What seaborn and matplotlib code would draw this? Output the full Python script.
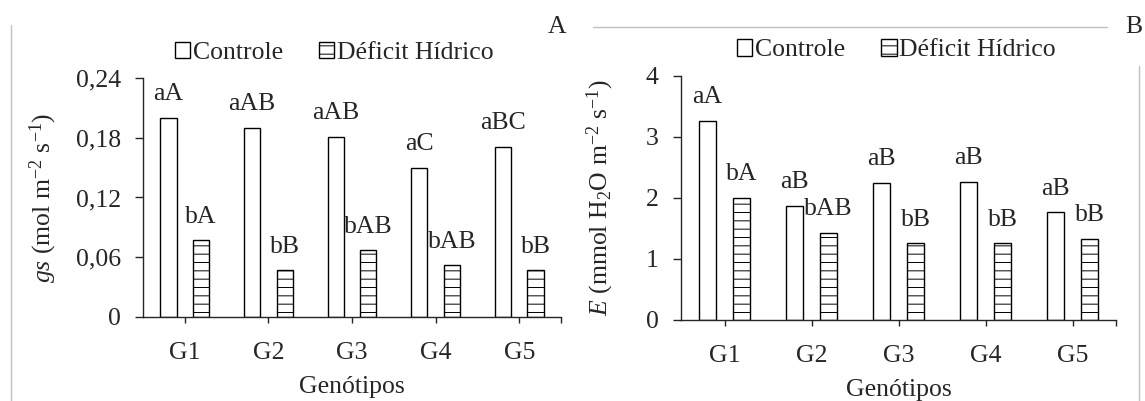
import matplotlib
matplotlib.use("Agg")
import matplotlib.pyplot as plt
import seaborn as sns
import pandas as pd
from matplotlib.lines import Line2D

genotipos = ["G1", "G2", "G3", "G4", "G5"]
tratamentos = ["Controle", "Déficit Hídrico"]

# panel A: stomatal conductance
gs_controle = [0.200, 0.190, 0.181, 0.150, 0.171]
gs_deficit = [0.077, 0.047, 0.067, 0.052, 0.047]
gs_letras_controle = ["aA", "aAB", "aAB", "aC", "aBC"]
gs_letras_deficit = ["bA", "bB", "bAB", "bAB", "bB"]
gs_ticks = [0, 0.06, 0.12, 0.18, 0.24]
gs_ticklabels = ["0", "0,06", "0,12", "0,18", "0,24"]

# panel B: transpiration
e_controle = [3.27, 1.87, 2.25, 2.27, 1.77]
e_deficit = [2.00, 1.43, 1.26, 1.26, 1.33]
e_letras_controle = ["aA", "aB", "aB", "aB", "aB"]
e_letras_deficit = ["bA", "bAB", "bB", "bB", "bB"]
e_ticks = [0, 1, 2, 3, 4]
e_ticklabels = ["0", "1", "2", "3", "4"]

sns.set_theme(style="ticks")
plt.rcParams["font.family"] = "serif"
plt.rcParams["font.serif"] = ["Liberation Serif", "DejaVu Serif"]
plt.rcParams["mathtext.fontset"] = "custom"
plt.rcParams["mathtext.rm"] = "Liberation Serif"
plt.rcParams["mathtext.it"] = "Liberation Serif:italic"
plt.rcParams["hatch.linewidth"] = 0.7
plt.rcParams["axes.unicode_minus"] = False

FS = 18.5
LINE = "#262626"


def make_df(controle, deficit):
    rows = []
    for g, c, d in zip(genotipos, controle, deficit):
        rows.append({"Genotipo": g, "Tratamento": tratamentos[0], "valor": c})
        rows.append({"Genotipo": g, "Tratamento": tratamentos[1], "valor": d})
    return pd.DataFrame(rows)


def draw_panel(ax, df, lab_c, lab_d, ticks, ticklabels, ylabel, leg_x,
               ylab_x):
    sns.barplot(data=df, x="Genotipo", y="valor", hue="Tratamento",
                hue_order=tratamentos, palette=["white", "white"],
                edgecolor="black", linewidth=1.0, width=0.78, gap=0.5,
                legend=False, ax=ax)
    # dashed fill for the water deficit bars
    for bar in ax.containers[1]:
        bar.set_hatch("--")
    ax.bar_label(ax.containers[0], labels=lab_c, padding=9, fontsize=FS)
    ax.bar_label(ax.containers[1], labels=lab_d, padding=9, fontsize=FS)

    ax.set_ylim(ticks[0], ticks[-1])
    ax.set_xlim(-0.5, 4.5)
    ax.set_yticks(ticks)
    ax.set_yticklabels(ticklabels)
    ax.set_xticks([4.5], minor=True)
    sns.despine(ax=ax)
    for side in ["left", "bottom"]:
        ax.spines[side].set_color(LINE)
        ax.spines[side].set_linewidth(1.0)
    ax.tick_params(axis="y", which="major", length=6, width=1.0,
                   color=LINE, pad=10, labelsize=FS)
    ax.tick_params(axis="x", which="both", length=4, width=1.0,
                   color=LINE, pad=14, labelsize=FS)
    ax.set_xlabel("Genótipos", fontsize=FS, labelpad=9)
    ax.set_ylabel(ylabel, fontsize=FS)
    ax.yaxis.set_label_coords(ylab_x, 0.5)

    leg = ax.legend(ax.containers, tratamentos, loc="center",
                    bbox_to_anchor=(leg_x, 1.105), ncol=2, frameon=False,
                    fontsize=FS, handlelength=0.6, handleheight=0.6,
                    handletextpad=0.1, columnspacing=1.4, borderpad=0)
    return leg


fig = plt.figure(figsize=(11.45, 4.01), dpi=100)
ax1 = fig.add_axes([0.1249, 0.2095, 0.3651, 0.596])
ax2 = fig.add_axes([0.5948, 0.2020, 0.3799, 0.6085])

draw_panel(ax1, make_df(gs_controle, gs_deficit), gs_letras_controle,
           gs_letras_deficit, gs_ticks, gs_ticklabels,
           r"$gs$ (mol m$^{\mathregular{-2}}$ s$^{\mathregular{-1}}$)",
           0.457, -0.20)
draw_panel(ax2, make_df(e_controle, e_deficit), e_letras_controle,
           e_letras_deficit, e_ticks, e_ticklabels,
           r"$E$ (mmol H$_{\mathregular{2}}$O m$^{\mathregular{-2}}$ "
           r"s$^{\mathregular{-1}}$)",
           0.495, -0.15)

# panel letters and the light frame lines around the figure
fig.text(0.4865, 0.933, "A", fontsize=FS, ha="center", va="center")
fig.text(0.990, 0.933, "B", fontsize=FS, ha="center", va="center")
grey = "#c0c0c0"
fig.add_artist(Line2D([593 / 1145, 1107 / 1145], [0.933, 0.933],
                      color=grey, lw=1.0))
fig.add_artist(Line2D([0.0093, 0.0093], [0.0, 0.938], color=grey, lw=1.0))
fig.add_artist(Line2D([0.9948, 0.9948], [0.0, 0.835], color=grey, lw=1.0))

fig.savefig("out.png", dpi=100, facecolor="white")
